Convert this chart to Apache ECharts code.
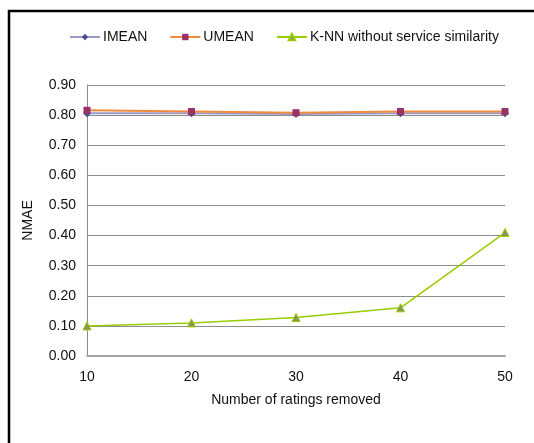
<!DOCTYPE html>
<html>
<head>
<meta charset="utf-8">
<script src="https://cdn.jsdelivr.net/npm/echarts@6/dist/echarts.min.js"></script>
<style>
  html, body { margin: 0; padding: 0; background: #fff; }
  #chart { width: 534px; height: 443px; }
</style>
</head>
<body>
<div id="chart"></div>
<script>
// values
const ratingsRemoved = [10, 20, 30, 40, 50]
const imean = [0.806, 0.806, 0.804, 0.806, 0.806]
const umean = [0.816, 0.812, 0.808, 0.812, 0.812]
const knn = [0.10, 0.11, 0.128, 0.16, 0.41]
const yTicks = [0, 0.1, 0.2, 0.3, 0.4, 0.5, 0.6, 0.7, 0.8, 0.9]

const pairs = (vals) => ratingsRemoved.map((x, i) => [x, vals[i]])
const font = 'Liberation Sans, Arial, sans-serif'

const chart = echarts.init(document.getElementById('chart'))

const option = {
  animation: false,
  textStyle: { fontFamily: font },
  graphic: [
    {
      type: 'rect',
      shape: { x: 9, y: 11, width: 700, height: 700 },
      style: { fill: 'none', stroke: '#000', lineWidth: 2.5 }
    }
  ],
  legend: {
    top: 25,
    left: 64,
    itemWidth: 30,
    itemHeight: 8,
    itemGap: 22,
    textStyle: { fontSize: 14, color: '#111', fontFamily: font, padding: [0, 0, 0, -2] },
    data: ['IMEAN', 'UMEAN', 'K-NN without service similarity']
  },
  grid: {
    left: 87,
    right: 29,
    top: 85,
    bottom: 87
  },
  xAxis: {
    type: 'value',
    min: 10,
    max: 50,
    interval: 10,
    name: 'Number of ratings removed',
    nameLocation: 'middle',
    nameGap: 37,
    nameTextStyle: { fontSize: 14, color: '#111', fontFamily: font },
    axisLine: { show: true, lineStyle: { color: '#a6a6a6', width: 2 } },
    axisTick: { show: false },
    splitLine: { show: false },
    axisLabel: { fontSize: 14, color: '#111', margin: 14, fontFamily: font }
  },
  yAxis: {
    type: 'value',
    min: yTicks[0],
    max: yTicks[yTicks.length - 1],
    interval: 0.1,
    name: 'NMAE',
    nameLocation: 'middle',
    nameGap: 52,
    nameTextStyle: { fontSize: 14, color: '#111', fontFamily: font },
    axisLine: { show: true, lineStyle: { color: '#8c8c8c', width: 1 } },
    axisTick: { show: false },
    splitLine: { lineStyle: { color: '#8c8c8c', width: 1 } },
    axisLabel: {
      fontSize: 14,
      color: '#111',
      margin: 11,
      fontFamily: font,
      formatter: (v) => v.toFixed(2)
    }
  },
  series: [
    {
      name: 'IMEAN',
      type: 'line',
      data: pairs(imean),
      symbol: 'diamond',
      symbolSize: 8,
      lineStyle: { color: '#9a9ac8', width: 2 },
      itemStyle: { color: '#4b4b96', borderWidth: 0 }
    },
    {
      name: 'UMEAN',
      type: 'line',
      data: pairs(umean),
      symbol: 'rect',
      symbolSize: 7,
      lineStyle: { color: '#f28a3c', width: 2 },
      itemStyle: { color: '#993366', borderWidth: 0 }
    },
    {
      name: 'K-NN without service similarity',
      type: 'line',
      data: pairs(knn),
      symbol: 'triangle',
      symbolSize: 8,
      lineStyle: { color: '#99cc00', width: 1.5 },
      itemStyle: { color: '#8a9460', borderColor: '#99cc00', borderWidth: 1 }
    }
  ]
}

chart.setOption(option)
</script>
</body>
</html>
